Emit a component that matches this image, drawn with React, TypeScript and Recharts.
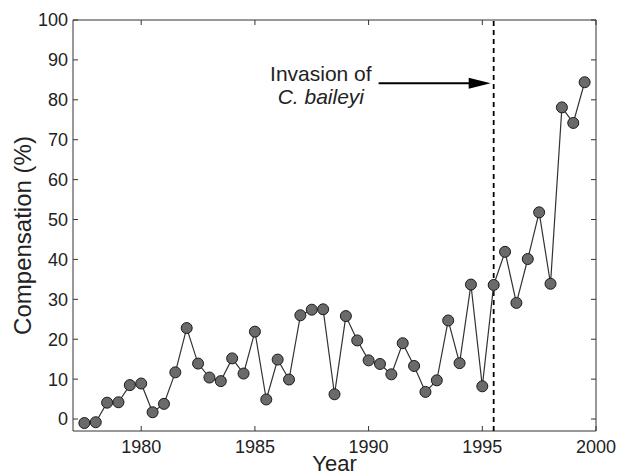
import React from 'react';
import {
  LineChart,
  Line,
  XAxis,
  YAxis,
  ReferenceLine,
  ReferenceDot,
  ReferenceArea,
} from 'recharts';

const years = [
  1977.5, 1978, 1978.5, 1979, 1979.5, 1980, 1980.5, 1981, 1981.5, 1982,
  1982.5, 1983, 1983.5, 1984, 1984.5, 1985, 1985.5, 1986, 1986.5, 1987,
  1987.5, 1988, 1988.5, 1989, 1989.5, 1990, 1990.5, 1991, 1991.5, 1992,
  1992.5, 1993, 1993.5, 1994, 1994.5, 1995, 1995.5, 1996, 1996.5, 1997,
  1997.5, 1998, 1998.5, 1999, 1999.5,
];

const compensation = [
  -1.0, -0.8, 4.1, 4.2, 8.5, 8.9, 1.7, 3.8, 11.7, 22.8,
  13.9, 10.4, 9.5, 15.2, 11.4, 21.9, 4.9, 14.9, 9.9, 26.0,
  27.4, 27.5, 6.2, 25.8, 19.7, 14.7, 13.8, 11.2, 19.0, 13.3,
  6.8, 9.7, 24.7, 14.0, 33.7, 8.2, 33.6, 41.9, 29.1, 40.1,
  51.8, 33.9, 78.1, 74.2, 84.4,
];

const xTicks = [1980, 1985, 1990, 1995, 2000];
const yTicks = [0, 10, 20, 30, 40, 50, 60, 70, 80, 90, 100];
const xDomain = [1977, 2000];
const yDomain = [-3, 100];

const invasionYear = 1995.5;
const arrowStart = { x: 1990.44, y: 84.15 };
const arrowShaftEnd = { x: 1994.6, y: 84.15 };
const arrowTip = { x: 1995.37, y: 84.15 };
const labelLine1 = { x: 1987.9, y: 84.8, text: 'Invasion of' };
const labelLine2 = { x: 1987.9, y: 79.0, text: 'C. baileyi' };

const data = years.map((year, i) => ({ year, v: compensation[i] }));

const FONT = '"Liberation Sans", Arial, Helvetica, sans-serif';
const INK = '#222';
const AXIS = '#333';
const TICK_LEN = 5;

const tickShape = (dx: number, dy: number) => (p: any) => (
  <line
    x1={p.cx}
    y1={p.cy}
    x2={p.cx + dx}
    y2={p.cy + dy}
    stroke={AXIS}
    strokeWidth={1}
  />
);

export default function App() {
  return (
    <div style={{ position: 'absolute', left: 0, top: 0, width: 618, height: 476, background: '#fff' }}>
      <LineChart
        width={618}
        height={476}
        data={data}
        margin={{ top: 20, right: 22, bottom: 0, left: 0 }}
        style={{ fontFamily: FONT }}
      >
        <XAxis
          xAxisId="x"
          dataKey="year"
          type="number"
          domain={xDomain}
          ticks={xTicks}
          allowDataOverflow
          height={45}
          axisLine={false}
          tickLine={false}
          tickSize={-5}
          tickMargin={14}
          tick={{ fill: INK, fontSize: 18, fontFamily: FONT }}
          label={{
            content: (props: any) => {
              const vb = props.viewBox || {};
              return (
                <text
                  x={vb.x + vb.width / 2}
                  y={vb.y + 40}
                  textAnchor="middle"
                  fill={INK}
                  fontSize={22}
                  fontFamily={FONT}
                >
                  Year
                </text>
              );
            },
          }}
        />
        <YAxis
          yAxisId="y"
          type="number"
          domain={yDomain}
          ticks={yTicks}
          allowDataOverflow
          width={73}
          axisLine={false}
          tickLine={false}
          tickSize={-5}
          tickMargin={10}
          tick={{ fill: INK, fontSize: 18, fontFamily: FONT }}
          label={{
            content: (props: any) => {
              const vb = props.viewBox || {};
              const cx = vb.x + 22;
              const cy = vb.y + vb.height / 2 + 10;
              return (
                <text
                  x={cx}
                  y={cy}
                  transform={`rotate(-90 ${cx} ${cy})`}
                  textAnchor="middle"
                  dominantBaseline="central"
                  fill={INK}
                  fontSize={24}
                  fontFamily={FONT}
                >
                  Compensation (%)
                </text>
              );
            },
          }}
        />
        <ReferenceArea
          xAxisId="x"
          yAxisId="y"
          x1={xDomain[0]}
          x2={xDomain[1]}
          y1={yDomain[0]}
          y2={yDomain[1]}
          fill="none"
          fillOpacity={0}
          stroke={AXIS}
          strokeWidth={1}
          ifOverflow="visible"
        />
        {xTicks.map((t) => (
          <ReferenceDot key={`xb${t}`} xAxisId="x" yAxisId="y" x={t} y={yDomain[0]} ifOverflow="visible" shape={tickShape(0, -TICK_LEN)} />
        ))}
        {xTicks.map((t) => (
          <ReferenceDot key={`xt${t}`} xAxisId="x" yAxisId="y" x={t} y={yDomain[1]} ifOverflow="visible" shape={tickShape(0, TICK_LEN)} />
        ))}
        {yTicks.map((t) => (
          <ReferenceDot key={`yl${t}`} xAxisId="x" yAxisId="y" x={xDomain[0]} y={t} ifOverflow="visible" shape={tickShape(TICK_LEN, 0)} />
        ))}
        {yTicks.map((t) => (
          <ReferenceDot key={`yr${t}`} xAxisId="x" yAxisId="y" x={xDomain[1]} y={t} ifOverflow="visible" shape={tickShape(-TICK_LEN, 0)} />
        ))}
        <ReferenceLine
          xAxisId="x"
          yAxisId="y"
          x={invasionYear}
          stroke="#000"
          strokeWidth={1.8}
          strokeDasharray="5 4"
        />
        <ReferenceLine
          xAxisId="x"
          yAxisId="y"
          segment={[arrowStart, arrowShaftEnd]}
          stroke="#000"
          strokeWidth={2}
          ifOverflow="visible"
        />
        <ReferenceDot
          xAxisId="x"
          yAxisId="y"
          x={arrowTip.x}
          y={arrowTip.y}
          ifOverflow="visible"
          shape={(p: any) => (
            <polygon
              points={`${p.cx},${p.cy} ${p.cx - 22},${p.cy - 5.5} ${p.cx - 22},${p.cy + 5.5}`}
              fill="#000"
            />
          )}
        />
        <ReferenceDot
          xAxisId="x"
          yAxisId="y"
          x={labelLine1.x}
          y={labelLine1.y}
          ifOverflow="visible"
          shape={(p: any) => (
            <text x={p.cx} y={p.cy} textAnchor="middle" fill={INK} fontSize={21} fontFamily={FONT}>
              {labelLine1.text}
            </text>
          )}
        />
        <ReferenceDot
          xAxisId="x"
          yAxisId="y"
          x={labelLine2.x}
          y={labelLine2.y}
          ifOverflow="visible"
          shape={(p: any) => (
            <text
              x={p.cx}
              y={p.cy}
              textAnchor="middle"
              fill={INK}
              fontSize={21}
              fontStyle="italic"
              fontFamily={FONT}
            >
              {labelLine2.text}
            </text>
          )}
        />
        <Line
          xAxisId="x"
          yAxisId="y"
          type="linear"
          dataKey="v"
          stroke="#333"
          strokeWidth={1.2}
          dot={{ r: 5.5, fill: '#6a6a6a', stroke: '#1a1a1a', strokeWidth: 1 }}
          activeDot={false}
          isAnimationActive={false}
        />
      </LineChart>
    </div>
  );
}
